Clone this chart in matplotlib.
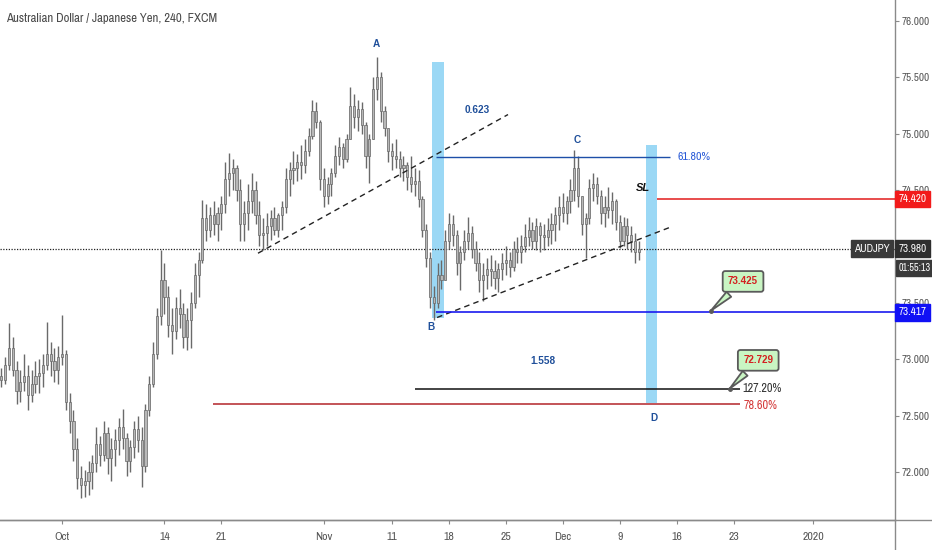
import numpy as np
import matplotlib
matplotlib.use("Agg")
import matplotlib.pyplot as plt
import matplotlib.transforms as mtransforms
from matplotlib import font_manager

_fonts = font_manager.fontManager.ttflist
_narrow = [f.name for f in _fonts if "Narrow" in f.name or "Condensed" in f.name]
if any(f.name == "Liberation Sans Narrow" for f in _fonts):
    NARROW = "Liberation Sans Narrow"
elif _narrow:
    NARROW = _narrow[0]
else:
    NARROW = "DejaVu Sans"
plt.rcParams["font.family"] = [NARROW, "DejaVu Sans"]
plt.rcParams["font.stretch"] = "condensed"
BOLD = dict(family=["Liberation Sans", "DejaVu Sans"], fontstretch="normal", fontweight="bold")

# ---- 4h AUDJPY candles (one candle = 2 bars) ----
first_open = 72.85
highs = [72.92, 73.02, 73.32, 73.20, 72.98, 72.90, 73.05, 72.95, 72.90, 72.98,
         73.00, 73.05, 73.33, 73.15, 73.10, 73.12, 73.39, 73.08, 72.70, 72.55,
         72.30, 72.05, 72.02, 72.10, 72.15, 72.40, 72.32, 72.45, 72.40, 72.30,
         72.38, 72.48, 72.56, 72.35, 72.28, 72.45, 72.50, 72.40, 72.60, 72.85,
         73.15, 73.45, 73.97, 73.85, 73.65, 73.45, 73.55, 73.62, 73.50, 73.45,
         73.60, 73.85, 73.95, 74.41, 74.38, 74.35, 74.40, 74.35, 74.45, 74.75,
         74.83, 74.78, 74.72, 74.60, 74.40, 74.55, 74.65, 74.58, 74.40, 74.25,
         74.30, 74.32, 74.35, 74.30, 74.40, 74.70, 74.75, 74.85, 74.82, 74.90,
         74.95, 75.05, 75.30, 75.28, 75.12, 74.70, 74.62, 74.70, 74.90, 74.97,
         74.92, 75.00, 75.41, 75.35, 75.30, 75.28, 75.10, 75.00, 75.50, 75.68,
         75.55, 75.25, 75.05, 74.92, 74.95, 74.85, 74.80, 74.75, 74.80, 74.70,
         74.68, 74.45, 74.20, 73.95, 73.65, 73.85, 73.88, 74.15, 74.30, 74.28,
         74.15, 74.00, 74.15, 74.26, 74.18, 74.05, 73.95, 73.85, 73.90, 73.92,
         73.88, 73.85, 73.94, 74.00, 73.95, 74.05, 74.08, 74.10, 74.20, 74.26,
         74.22, 74.25, 74.22, 74.20, 74.25, 74.30, 74.35, 74.45, 74.47, 74.45,
         74.60, 74.86, 74.80, 74.45, 74.30, 74.60, 74.65, 74.62, 74.50, 74.45,
         74.53, 74.48, 74.42, 74.28, 74.26, 74.25, 74.18, 74.12, 74.05]
lows = [72.75, 72.78, 72.90, 72.85, 72.60, 72.62, 72.72, 72.55, 72.62, 72.70,
        72.70, 72.75, 72.90, 72.85, 72.80, 72.78, 72.95, 72.55, 72.35, 72.10,
        71.85, 71.77, 71.78, 71.80, 71.85, 72.00, 72.05, 72.10, 71.98, 71.92,
        72.05, 72.15, 72.20, 71.96, 72.00, 72.12, 72.18, 71.87, 72.00, 72.50,
        72.75, 73.00, 73.30, 73.40, 73.20, 73.05, 73.18, 73.28, 73.10, 73.08,
        73.10, 73.45, 73.55, 73.85, 74.05, 74.08, 74.10, 74.05, 74.15, 74.30,
        74.45, 74.50, 74.40, 74.05, 74.05, 74.15, 74.30, 74.20, 74.00, 73.97,
        74.00, 74.06, 74.10, 74.08, 74.15, 74.30, 74.45, 74.55, 74.58, 74.60,
        74.65, 74.80, 74.95, 75.05, 74.50, 74.35, 74.38, 74.45, 74.62, 74.72,
        74.70, 74.75, 74.95, 75.05, 75.02, 75.00, 74.70, 74.56, 74.95, 75.30,
        75.10, 74.98, 74.75, 74.68, 74.70, 74.62, 74.58, 74.50, 74.48, 74.45,
        74.35, 74.08, 73.82, 73.45, 73.35, 73.45, 73.62, 73.70, 73.98, 74.00,
        73.75, 73.61, 73.88, 73.98, 73.90, 73.78, 73.60, 73.52, 73.62, 73.65,
        73.62, 73.60, 73.70, 73.75, 73.73, 73.78, 73.85, 73.85, 73.95, 74.00,
        73.98, 73.97, 73.95, 73.97, 74.00, 74.02, 74.05, 74.15, 74.22, 74.20,
        74.30, 74.40, 74.35, 74.10, 73.90, 74.20, 74.40, 74.38, 74.20, 74.17,
        74.25, 74.20, 74.15, 73.99, 74.00, 73.98, 73.95, 73.85, 73.88]
closes = [72.82, 72.95, 73.10, 72.90, 72.72, 72.80, 72.85, 72.68, 72.78, 72.85,
          72.88, 72.95, 73.05, 72.98, 72.90, 73.02, 73.05, 72.62, 72.45, 72.20,
          71.95, 71.88, 71.92, 72.00, 72.08, 72.25, 72.15, 72.35, 72.12, 72.20,
          72.28, 72.40, 72.30, 72.10, 72.22, 72.38, 72.28, 72.05, 72.55, 72.78,
          73.05, 73.38, 73.70, 73.55, 73.30, 73.25, 73.45, 73.40, 73.20, 73.35,
          73.50, 73.75, 73.88, 74.25, 74.15, 74.28, 74.20, 74.30, 74.38, 74.60,
          74.65, 74.70, 74.50, 74.20, 74.30, 74.40, 74.50, 74.28, 74.10, 74.12,
          74.18, 74.25, 74.15, 74.28, 74.35, 74.60, 74.68, 74.70, 74.75, 74.72,
          74.85, 74.98, 75.20, 75.10, 74.60, 74.45, 74.55, 74.65, 74.80, 74.88,
          74.78, 74.95, 75.25, 75.15, 75.22, 75.08, 74.80, 74.95, 75.40, 75.50,
          75.20, 75.05, 74.85, 74.80, 74.78, 74.70, 74.72, 74.62, 74.55, 74.58,
          74.42, 74.15, 73.90, 73.55, 73.50, 73.75, 73.70, 74.05, 74.20, 74.10,
          73.85, 73.95, 74.05, 74.12, 73.98, 73.85, 73.70, 73.75, 73.80, 73.78,
          73.72, 73.80, 73.85, 73.88, 73.82, 73.98, 73.95, 74.00, 74.08, 74.15,
          74.05, 74.18, 74.10, 74.08, 74.15, 74.20, 74.28, 74.35, 74.30, 74.40,
          74.50, 74.70, 74.45, 74.20, 74.25, 74.52, 74.55, 74.45, 74.30, 74.35,
          74.32, 74.40, 74.22, 74.05, 74.18, 74.10, 74.05, 73.95, 73.98]
first_bar, bar_step = -32, 2          # bar index of first candle (0 = Oct 1)

# x axis: trading days since Oct 1 (6 bars / day)
date_labels = ["Oct", "14", "21", "Nov", "11", "18", "25", "Dec", "9", "16", "23", "2020"]
date_days = [0, 9, 14, 23, 29, 34, 39, 44, 49, 54, 59, 66]
price_ticks = [72.0, 72.5, 73.0, 73.5, 74.0, 74.5, 75.0, 75.5, 76.0]

last_price = 73.980
sl_price = 74.420
target_price = 73.417
fib618 = 74.79
fib1272 = 72.736
fib786 = 72.60
callout1 = "73.425"
callout2 = "72.729"

fig = plt.figure(figsize=(9.32, 5.5), dpi=100)
ax = fig.add_axes([0, 30 / 550, 895 / 932, 520 / 550])
ax.set_xlim(-32.7, 439.1)
ax.set_ylim(71.574, 76.186)

# candles
x = np.arange(len(closes)) * bar_step + first_bar
c = np.array(closes)
o = np.concatenate([[first_open], c[:-1]])
h = np.maximum(np.array(highs), np.maximum(o, c))
l = np.minimum(np.array(lows), np.minimum(o, c))
ax.vlines(x, l, h, color="#6a6a6a", lw=1.0, zorder=3)
body_lo = np.minimum(o, c)
body_h = np.maximum(np.abs(c - o), 0.012)
ax.bar(x, body_h, bottom=body_lo, width=1.15, color="#b8b8b8",
       edgecolor="#666666", lw=0.5, zorder=4)

# last price dotted line
ax.axhline(last_price, color="#222222", lw=0.9, ls=(0, (1, 1.2)), zorder=2)

# harmonic pattern drawing
blue_band = "#9bd8f5"
ax.fill_between([195, 201.4], 73.37, 75.64, color=blue_band, lw=0, zorder=1)
ax.fill_between([307.9, 313.7], 72.61, 74.90, color=blue_band, lw=0, zorder=1)
ax.plot([103.3, 235.1], [73.94, 75.17], color="#222222", lw=1, ls=(0, (4, 3)), zorder=5)
ax.plot([197.7, 320.5], [73.37, 74.17], color="#222222", lw=1, ls=(0, (4, 3)), zorder=5)
ax.hlines(fib618, 197.2, 320.5, color="#1d4fa8", lw=1, zorder=5)
ax.hlines(target_price, 197.2, 439.1, color="#1a1aef", lw=1.2, zorder=5)
ax.hlines(sl_price, 313.7, 439.1, color="#e21b1b", lw=1.1, zorder=5)
ax.hlines(fib1272, 186, 357.4, color="#111111", lw=1.1, zorder=5)
ax.hlines(fib786, 79.6, 357.4, color="#b3252a", lw=1.1, zorder=5)

lab = dict(color="#1f4f9a", fontsize=7.2, ha="center", va="center", **BOLD)
ax.text(165.5, 75.80, "A", **lab)
ax.text(194.5, 73.29, "B", **lab)
ax.text(271.5, 74.94, "C", **lab)
ax.text(312.0, 72.48, "D", **lab)
ax.text(218.8, 75.21, "0.623", **lab)
ax.text(253.6, 72.98, "1.558", **lab)
ax.text(324.5, fib618, "61.80%", color="#2a5bd7", fontsize=8.5, va="center")
ax.text(302.5, 74.52, "SL", color="#111111", fontsize=8, fontstyle="italic",
        va="center", **BOLD)
ax.text(358.5, fib1272, "127.20%", color="#333333", fontsize=8.8, va="center")
ax.text(359.5, fib786 - 0.01, "78.60%", color="#d43a3a", fontsize=8.8, va="center")

box = dict(boxstyle="round,pad=0.55,rounding_size=0.25", fc="#c9f5c3", ec="#5a5a5a", lw=1.3)
arr = dict(arrowstyle="wedge,tail_width=0.7,shrink_factor=0.5", fc="#c9f5c3",
           ec="#5a5a5a", lw=1.3, shrinkB=0)
ax.annotate(callout1, xy=(342, 73.43), xytext=(359, 73.69), color="#d42020",
            fontsize=7, ha="center", va="center",
            bbox=box, arrowprops=arr, zorder=6, **BOLD)
ax.annotate(callout2, xy=(352, 72.74), xytext=(367, 72.99), color="#d42020",
            fontsize=7, ha="center", va="center",
            bbox=box, arrowprops=arr, zorder=6, **BOLD)
ax.plot([342, 352], [73.43, 72.74], "o", ms=2.5, color="#5a5a5a", zorder=7)

# axes styling
for s in ["top", "left"]:
    ax.spines[s].set_visible(False)
for s in ["right", "bottom"]:
    ax.spines[s].set_color("#8a8a8a")
    ax.spines[s].set_linewidth(1)
ax.set_xticks([d * 6 for d in date_days])
ax.set_xticklabels(date_labels)
ax.set_yticks(price_ticks)
# 74.000 sits fully under the last-price tag, as on the chart
ax.set_yticklabels(["" if p == 74.0 else f"{p:.3f}" for p in price_ticks])
ax.yaxis.tick_right()
ax.tick_params(axis="both", direction="out", length=3, color="#8a8a8a",
               labelcolor="#555555")
ax.tick_params(axis="x", pad=6, labelsize=8.5)
ax.tick_params(axis="y", pad=2, labelsize=8)

# price scale labels (drawn over the axis labels they hide)
tr = mtransforms.blended_transform_factory(ax.transAxes, ax.transData)
def scale_label(y, txt, fc, size=8):
    ax.text(1.004, y, txt, transform=tr, color="white", fontsize=size,
            va="center", ha="left", clip_on=False, zorder=10,
            bbox=dict(boxstyle="square,pad=0.3", fc=fc, ec=fc))

scale_label(sl_price, "74.420", "#f21b1b")
scale_label(last_price, "73.980", "#2e2e2e")
scale_label(last_price - 0.175, "01:55:13", "#3a3a3a", size=7.2)
scale_label(target_price, "73.417", "#1010f5")
ax.text(0.994, last_price, "AUDJPY", transform=tr, color="white", fontsize=8,
        va="center", ha="right", zorder=10,
        bbox=dict(boxstyle="square,pad=0.3", fc="#3a3a3a", ec="#3a3a3a"))

fig.text(6 / 932, 1 - 18 / 550, "Australian Dollar / Japanese Yen, 240, FXCM",
         color="#4a4a4a", fontsize=9.2, va="center", ha="left")
fig.add_artist(plt.Line2D([0, 1], [30 / 550, 30 / 550], color="#8a8a8a", lw=1))
fig.add_artist(plt.Line2D([895 / 932, 895 / 932], [0, 30 / 550], color="#8a8a8a", lw=1))

fig.savefig("out.png", dpi=100)
